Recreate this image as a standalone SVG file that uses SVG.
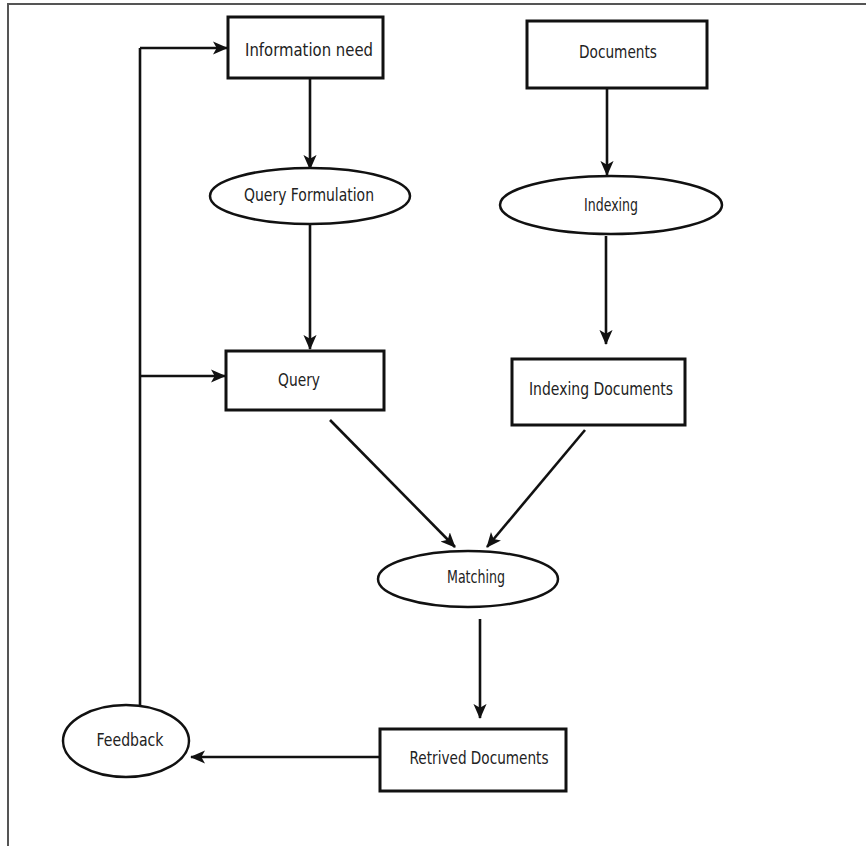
<svg xmlns="http://www.w3.org/2000/svg" width="866" height="846" viewBox="0 0 866 846">
<style>
.box{fill:#fff;stroke:#111;stroke-width:3}
.ell{fill:#fff;stroke:#111;stroke-width:2.5}
.lbl{font-family:"DejaVu Sans",sans-serif;font-size:17px;fill:#222;text-anchor:middle;dominant-baseline:central}
.edge{fill:none;stroke:#111;stroke-width:2.6}
.arr{marker-end:url(#ah)}
</style>
<defs>
<marker id="ah" viewBox="0 0 16 16" refX="15" refY="8" markerWidth="15" markerHeight="15" markerUnits="userSpaceOnUse" orient="auto">
<path d="M0,1 L16,8 L0,15 L4,8 Z" fill="#111"/>
</marker>
</defs>
<rect width="866" height="846" fill="#fff"/>
<path d="M8,846 V4 H866" fill="none" stroke="#555" stroke-width="2"/>

<g id="connectors">
<path class="edge" d="M140,712 V48"/>
<path class="edge arr" d="M140,48 H227"/>
<path class="edge arr" d="M140,376 H225"/>
<path class="edge arr" d="M310,79 V169"/>
<path class="edge arr" d="M310,225 V349"/>
<path class="edge arr" d="M607,89 V175"/>
<path class="edge arr" d="M606,236 V344"/>
<path class="edge arr" d="M330,420 L455,547"/>
<path class="edge arr" d="M585,430 L487,547"/>
<path class="edge arr" d="M480,619 V718"/>
<path class="edge arr" d="M380,757 H191"/>
</g>

<g id="information-need">
<rect class="box" x="228" y="17" width="155" height="61"/>
<text class="lbl" x="309" y="50" textLength="128" lengthAdjust="spacingAndGlyphs">Information need</text>
</g>
<g id="documents">
<rect class="box" x="527" y="21" width="180" height="67"/>
<text class="lbl" x="618" y="52" textLength="78" lengthAdjust="spacingAndGlyphs">Documents</text>
</g>
<g id="query-formulation">
<ellipse class="ell" cx="310" cy="196" rx="100" ry="28"/>
<text class="lbl" x="309" y="195" textLength="130" lengthAdjust="spacingAndGlyphs">Query Formulation</text>
</g>
<g id="indexing">
<ellipse class="ell" cx="611" cy="205" rx="111" ry="29"/>
<text class="lbl" x="611" y="205" textLength="54" lengthAdjust="spacingAndGlyphs">Indexing</text>
</g>
<g id="query">
<rect class="box" x="226" y="351" width="158" height="59"/>
<text class="lbl" x="299" y="380" textLength="42" lengthAdjust="spacingAndGlyphs">Query</text>
</g>
<g id="indexing-documents">
<rect class="box" x="512" y="359" width="173" height="66"/>
<text class="lbl" x="601" y="389" textLength="144" lengthAdjust="spacingAndGlyphs">Indexing Documents</text>
</g>
<g id="matching">
<ellipse class="ell" cx="468" cy="579" rx="90" ry="28"/>
<text class="lbl" x="476" y="577" textLength="58" lengthAdjust="spacingAndGlyphs">Matching</text>
</g>
<g id="retrived-documents">
<rect class="box" x="380" y="729" width="186" height="62"/>
<text class="lbl" x="479" y="758" textLength="139" lengthAdjust="spacingAndGlyphs">Retrived Documents</text>
</g>
<g id="feedback">
<ellipse class="ell" cx="126" cy="741" rx="63" ry="36"/>
<text class="lbl" x="130" y="740" textLength="67" lengthAdjust="spacingAndGlyphs">Feedback</text>
</g>
</svg>
